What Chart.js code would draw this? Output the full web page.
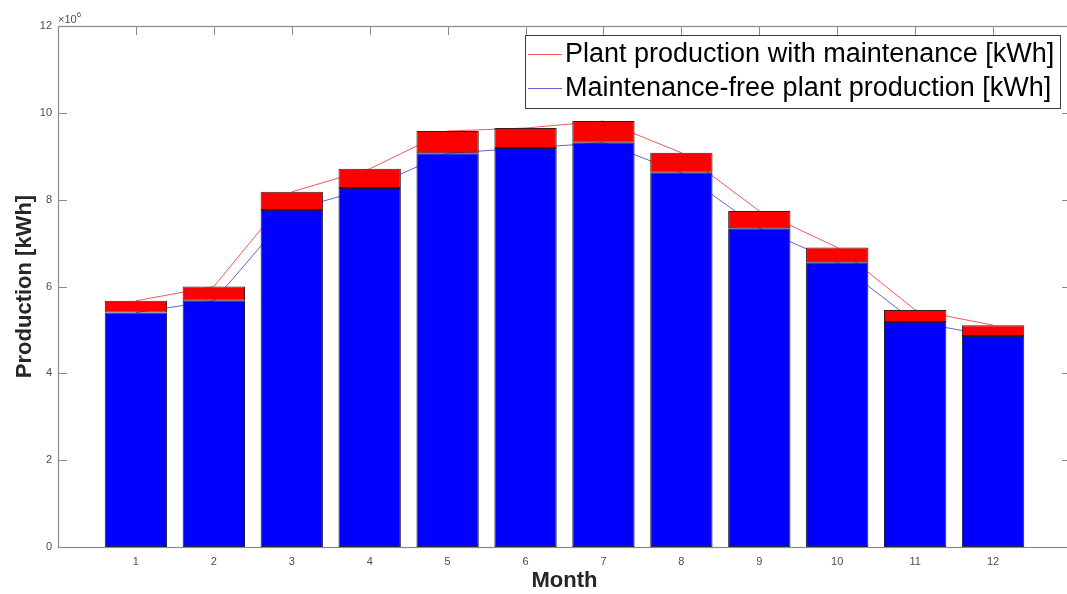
<!DOCTYPE html>
<html>
<head>
<meta charset="utf-8">
<title>Monthly plant production</title>
<script src="https://cdn.jsdelivr.net/npm/chart.js@4"></script>
<style>
  html, body { margin: 0; padding: 0; background: #fff; overflow: hidden; }
  #wrap { width: 1080px; height: 594px; }
</style>
</head>
<body>
<div id="wrap"><canvas id="chart" width="1080" height="594"></canvas></div>
<script>
// Monthly production, in units of 10^6 kWh
const months = [1, 2, 3, 4, 5, 6, 7, 8, 9, 10, 11, 12];
const withMaintenance = [5.67, 6.00, 8.18, 8.71, 9.58, 9.65, 9.81, 9.08, 7.74, 6.90, 5.46, 5.11];
const maintenanceFree = [5.40, 5.67, 7.76, 8.27, 9.07, 9.19, 9.31, 8.62, 7.34, 6.56, 5.18, 4.86];
const yTickValues = [0, 2, 4, 6, 8, 10, 12];
const legendLabels = ['Plant production with maintenance [kWh]', 'Maintenance-free plant production [kWh]'];
const exponentLabel = ['\u00d710', '6'];

const FONT = "'Liberation Sans', Arial, Helvetica, sans-serif";
const AXIS_GRAY = '#8a8a8a';
const TICK_TEXT = '#4d4d4d';
const LINE_RED = 'rgba(240,60,60,0.85)';
const LINE_BLUE = 'rgba(60,60,200,0.8)';

// Box frame, inward tick marks, exponent label and the boxed legend
const framePlugin = {
  id: 'frame',
  beforeDatasetsDraw(chart) {
    const {ctx, chartArea: a, scales: {x, y}} = chart;
    ctx.save();
    ctx.strokeStyle = AXIS_GRAY;
    ctx.lineWidth = 1;
    const tl = 9;
    ctx.beginPath();
    yTickValues.forEach(v => {
      if (v === yTickValues[0] || v === yTickValues[yTickValues.length - 1]) return;
      const py = Math.round(y.getPixelForValue(v)) + 0.5;
      ctx.moveTo(a.left, py); ctx.lineTo(a.left + tl, py);
      ctx.moveTo(a.right, py); ctx.lineTo(a.right - tl, py);
    });
    months.forEach(m => {
      const px = Math.round(x.getPixelForValue(m)) + 0.5;
      ctx.moveTo(px, a.top); ctx.lineTo(px, a.top + tl);
      ctx.moveTo(px, a.bottom); ctx.lineTo(px, a.bottom - tl);
    });
    ctx.stroke();
    ctx.restore();
  },
  afterDatasetsDraw(chart) {
    const {ctx, chartArea: a} = chart;
    ctx.save();
    ctx.strokeStyle = AXIS_GRAY;
    ctx.lineWidth = 1.2;
    ctx.strokeRect(Math.round(a.left) + 0.5, Math.round(a.top) + 0.5,
                   Math.round(a.right - a.left), Math.round(a.bottom - a.top));

    // exponent of the y axis
    ctx.fillStyle = TICK_TEXT;
    ctx.textBaseline = 'alphabetic';
    ctx.textAlign = 'left';
    ctx.font = '11px ' + FONT;
    ctx.fillText(exponentLabel[0], a.left, a.top - 3);
    const w = ctx.measureText(exponentLabel[0]).width;
    ctx.font = '8px ' + FONT;
    ctx.fillText(exponentLabel[1], a.left + w, a.top - 9);

    // legend
    const bx = 525, by = 35, bw = 535, bh = 73;
    ctx.fillStyle = '#fff';
    ctx.fillRect(bx, by, bw, bh);
    ctx.strokeStyle = '#3a3a3a';
    ctx.lineWidth = 1;
    ctx.strokeRect(bx + 0.5, by + 0.5, bw, bh);
    const colors = [LINE_RED, LINE_BLUE];
    const rows = [54, 88];
    ctx.font = '27px ' + FONT;
    ctx.textBaseline = 'middle';
    legendLabels.forEach((t, i) => {
      ctx.strokeStyle = colors[i];
      ctx.beginPath();
      ctx.moveTo(528, rows[i] + 0.5); ctx.lineTo(562, rows[i] + 0.5);
      ctx.stroke();
      ctx.fillStyle = '#000';
      ctx.fillText(t, 565, rows[i] + 1);
    });
    ctx.restore();
  }
};

new Chart(document.getElementById('chart'), {
  data: {
    datasets: [
      {
        type: 'bar',
        label: 'Maintenance-free',
        data: months.map((m, i) => ({x: m, y: maintenanceFree[i]})),
        backgroundColor: '#0000ff',
        borderColor: '#1c1c3a',
        borderWidth: 1,
        borderSkipped: false,
        grouped: false,
        barPercentage: 0.8,
        categoryPercentage: 1,
        order: 1
      },
      {
        type: 'bar',
        label: 'Maintenance gain',
        data: months.map((m, i) => ({x: m, y: [maintenanceFree[i], withMaintenance[i]]})),
        backgroundColor: '#ff0000',
        borderColor: '#3a1c1c',
        borderWidth: 1,
        borderSkipped: false,
        grouped: false,
        barPercentage: 0.8,
        categoryPercentage: 1,
        order: 0
      },
      {
        type: 'line',
        label: legendLabels[0],
        data: months.map((m, i) => ({x: m, y: withMaintenance[i]})),
        borderColor: LINE_RED,
        borderWidth: 1,
        pointRadius: 0,
        fill: false,
        tension: 0,
        order: 3
      },
      {
        type: 'line',
        label: legendLabels[1],
        data: months.map((m, i) => ({x: m, y: maintenanceFree[i]})),
        borderColor: LINE_BLUE,
        borderWidth: 1,
        pointRadius: 0,
        fill: false,
        tension: 0,
        order: 2
      }
    ]
  },
  options: {
    responsive: false,
    animation: false,
    layout: { padding: { top: 26, right: 9, left: 0, bottom: 0 } },
    plugins: { legend: { display: false }, tooltip: { enabled: false } },
    scales: {
      x: {
        type: 'linear',
        min: 0,
        max: 13,
        offset: false,
        grid: { display: false, drawTicks: false, offset: false },
        border: { display: false },
        ticks: {
          stepSize: 1,
          padding: 8,
          color: TICK_TEXT,
          font: { size: 11, family: FONT },
          maxRotation: 0,
          callback: v => (months.includes(v) ? String(v) : '')
        },
        title: {
          display: true,
          text: 'Month',
          color: '#262626',
          font: { size: 22, weight: 'bold', family: FONT },
          padding: { top: 0, bottom: 0 }
        },
        afterFit: s => { s.height = 47; }
      },
      y: {
        min: 0,
        max: 12,
        grid: { display: false, drawTicks: false },
        border: { display: false },
        afterBuildTicks: s => { s.ticks = yTickValues.map(v => ({value: v})); },
        ticks: {
          padding: 6,
          color: TICK_TEXT,
          font: { size: 11, family: FONT }
        },
        title: {
          display: true,
          text: 'Production [kWh]',
          color: '#262626',
          font: { size: 22, weight: 'bold', family: FONT },
          padding: { top: 12, bottom: 0 }
        },
        afterFit: s => { s.width = 58; }
      }
    }
  },
  plugins: [framePlugin]
});
</script>
</body>
</html>
